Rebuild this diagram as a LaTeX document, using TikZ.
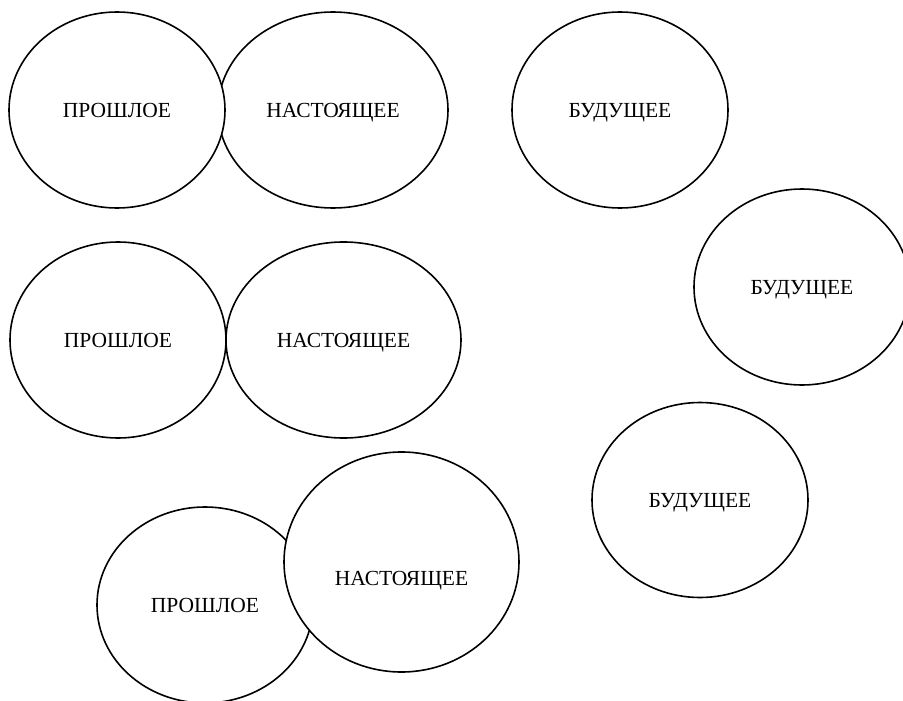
\documentclass[tikz,border=0pt]{standalone}
\usepackage{fontspec}
\setmainfont{Liberation Serif}
\usetikzlibrary{shapes.geometric}

\tikzset{
  oval/.style={ellipse, draw, line width=1.6pt, fill=white, inner sep=0pt,
    font=\fontsize{21.5}{24}\selectfont, text height=14.2pt, text depth=0pt},
}

\begin{document}
\begin{tikzpicture}[x=1pt,y=-1pt]
  \useasboundingbox (0,0) rectangle (903,701);
  % first row
  \node[oval, minimum width=230, minimum height=196] (now1) at (333,110) {НАСТОЯЩЕЕ};
  \node[oval, minimum width=216, minimum height=196] (past1) at (117,110) {ПРОШЛОЕ};
  \node[oval, minimum width=216, minimum height=196] (fut1) at (620,110) {БУДУЩЕЕ};
  % second row
  \node[oval, minimum width=216, minimum height=196] (past2) at (118,340) {ПРОШЛОЕ};
  \node[oval, minimum width=235, minimum height=196] (now2) at (343.5,340) {НАСТОЯЩЕЕ};
  \node[oval, minimum width=216, minimum height=196] (fut2) at (802,287) {БУДУЩЕЕ};
  % third row
  \node[oval, minimum width=216, minimum height=196] (past3) at (205,605) {ПРОШЛОЕ};
  \node[oval, minimum width=235, minimum height=220] (now3) at (401.5,562) {};
  \node[font=\fontsize{21.5}{24}\selectfont, text height=14.2pt, text depth=0pt,
    inner sep=0pt] (now3t) at (401.5,578) {НАСТОЯЩЕЕ};
  \node[oval, minimum width=216, minimum height=195] (fut3) at (700,500) {БУДУЩЕЕ};
\end{tikzpicture}
\end{document}
